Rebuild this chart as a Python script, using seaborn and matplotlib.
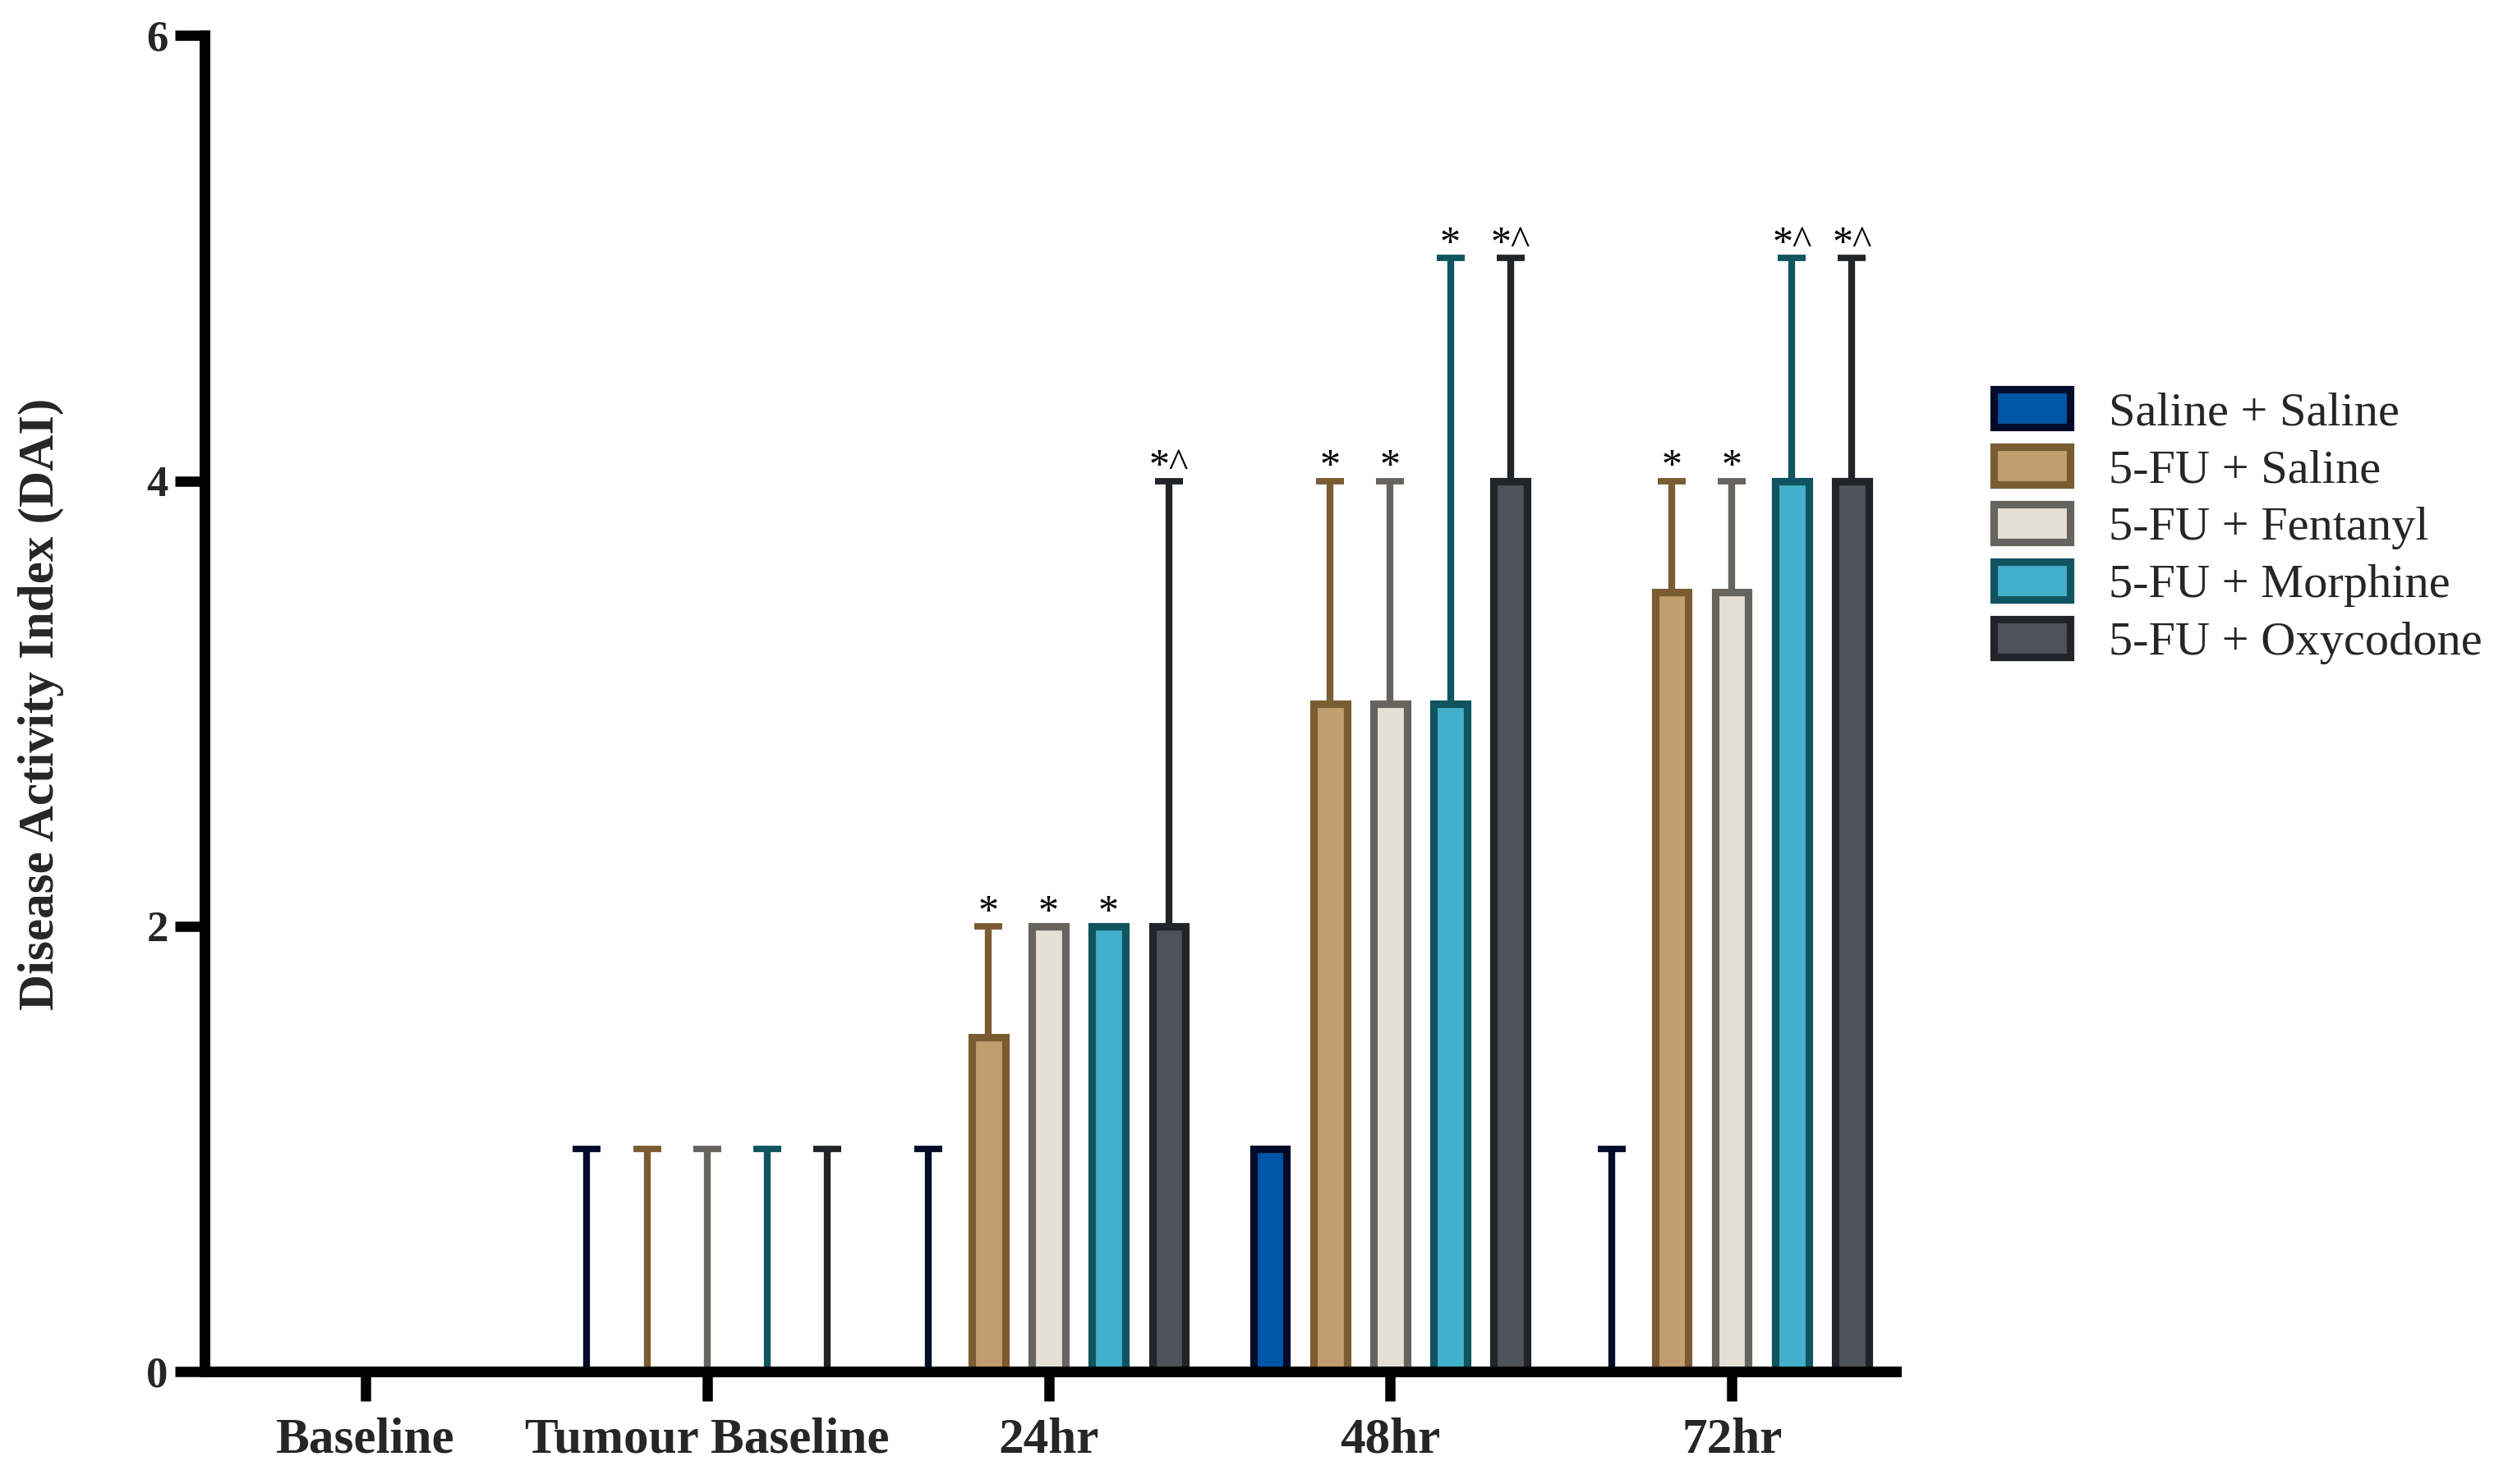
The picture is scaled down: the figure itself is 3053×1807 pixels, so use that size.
import numpy as np
import pandas as pd
import matplotlib
matplotlib.use("Agg")
import matplotlib.pyplot as plt
from matplotlib.patches import Patch
import seaborn as sns

# ---------------- data ----------------
times = ["Baseline", "Tumour Baseline", "24hr", "48hr", "72hr"]
groups = ["Saline + Saline", "5-FU + Saline", "5-FU + Fentanyl",
          "5-FU + Morphine", "5-FU + Oxycodone"]

saline_saline = [0, 0, 0, 1, 0]
fu_saline = [0, 0, 1.5, 3, 3.5]
fu_fentanyl = [0, 0, 2, 3, 3.5]
fu_morphine = [0, 0, 2, 3, 4]
fu_oxycodone = [0, 0, 2, 4, 4]

err_saline_saline = [0, 1, 1, 0, 1]
err_fu_saline = [0, 1, 0.5, 1, 0.5]
err_fu_fentanyl = [0, 1, 0, 1, 0.5]
err_fu_morphine = [0, 1, 0, 2, 1]
err_fu_oxycodone = [0, 1, 2, 1, 1]

sig_saline_saline = ["", "", "", "", ""]
sig_fu_saline = ["", "", "*", "*", "*"]
sig_fu_fentanyl = ["", "", "*", "*", "*"]
sig_fu_morphine = ["", "", "*", "*", "*^"]
sig_fu_oxycodone = ["", "", "*^", "*^", "*^"]

values = [saline_saline, fu_saline, fu_fentanyl, fu_morphine, fu_oxycodone]
errors = [err_saline_saline, err_fu_saline, err_fu_fentanyl, err_fu_morphine, err_fu_oxycodone]
sigs = [sig_saline_saline, sig_fu_saline, sig_fu_fentanyl, sig_fu_morphine, sig_fu_oxycodone]

fills = ["#0055A6", "#C09E6E", "#E6DFD5", "#43B0CB", "#4E525A"]
edges = ["#000C2A", "#7A5C32", "#67645F", "#0F545F", "#212428"]

y_ticks = [0, 2, 4, 6]

rows = []
for g, vals in zip(groups, values):
    for t, v in zip(times, vals):
        rows.append({"Time": t, "Group": g, "DAI": v})
df = pd.DataFrame(rows)

# ---------------- style ----------------
sns.set_theme(style="white")
plt.rcParams["font.family"] = ["Liberation Serif", "DejaVu Serif"]

fig = plt.figure(figsize=(15.265, 9.035), dpi=200)
ax = fig.add_axes([0.0816, 0.0758, 0.6744, 0.9002])

sns.barplot(data=df, x="Time", y="DAI", hue="Group", order=times,
            hue_order=groups, palette=dict(zip(groups, fills)),
            width=0.878, gap=0.45, errorbar=None, legend=False,
            saturation=1, ax=ax)

bar_containers = list(ax.containers)
for i, cont in enumerate(bar_containers):
    xs = []
    for p in cont.patches:
        p.set_edgecolor(edges[i])
        p.set_linewidth(3.3)
        xs.append(p.get_x() + p.get_width() / 2)
    xs = np.array(xs)
    vals = np.array(values[i], dtype=float)
    errs = np.array(errors[i], dtype=float)
    ax.errorbar(xs, vals, yerr=[np.zeros_like(errs), errs], fmt="none",
                ecolor=edges[i], elinewidth=3.0, capsize=6,
                capthick=2.8, zorder=2)
    for x, v, e, s in zip(xs, vals, errs, sigs[i]):
        if s:
            ax.annotate(s, (x, v + e), xytext=(0, 1.5),
                        textcoords="offset points", ha="center",
                        va="baseline", fontsize=18, color="black")

ax.set_xlim(-0.47, 4.48)
ax.set_ylim(0, 6)
ax.set_yticks(y_ticks)
ax.set_yticklabels([str(t) for t in y_ticks])
ax.set_xlabel("")
ax.set_ylabel("")

for side in ["top", "right"]:
    ax.spines[side].set_visible(False)
for side in ["left", "bottom"]:
    ax.spines[side].set_linewidth(4.7)
    ax.spines[side].set_color("black")
    ax.spines[side].set_zorder(2.5)

ax.tick_params(axis="both", which="major", direction="out", length=13,
               width=4.5, color="black", left=True, bottom=True)
ax.tick_params(axis="y", pad=3, labelsize=19)
ax.tick_params(axis="x", pad=7, labelsize=22)
for lab in ax.get_xticklabels() + ax.get_yticklabels():
    lab.set_fontweight("bold")

fig.text(50 / 3053, 1 - 857 / 1807, "Disease Activity Index (DAI)",
         rotation=90, ha="center", va="center", fontsize=22,
         fontweight="bold")

handles = [Patch(facecolor=f, edgecolor=e, linewidth=3.3, label=g)
           for f, e, g in zip(fills, edges, groups)]
fig.legend(handles=handles, loc="center left",
           bbox_to_anchor=(0.795, 0.645), frameon=False, fontsize=21,
           handlelength=1.6, handleheight=0.85, handletextpad=0.8,
           labelspacing=0.25, borderpad=0, borderaxespad=0)

fig.savefig("out.png", dpi=200)
